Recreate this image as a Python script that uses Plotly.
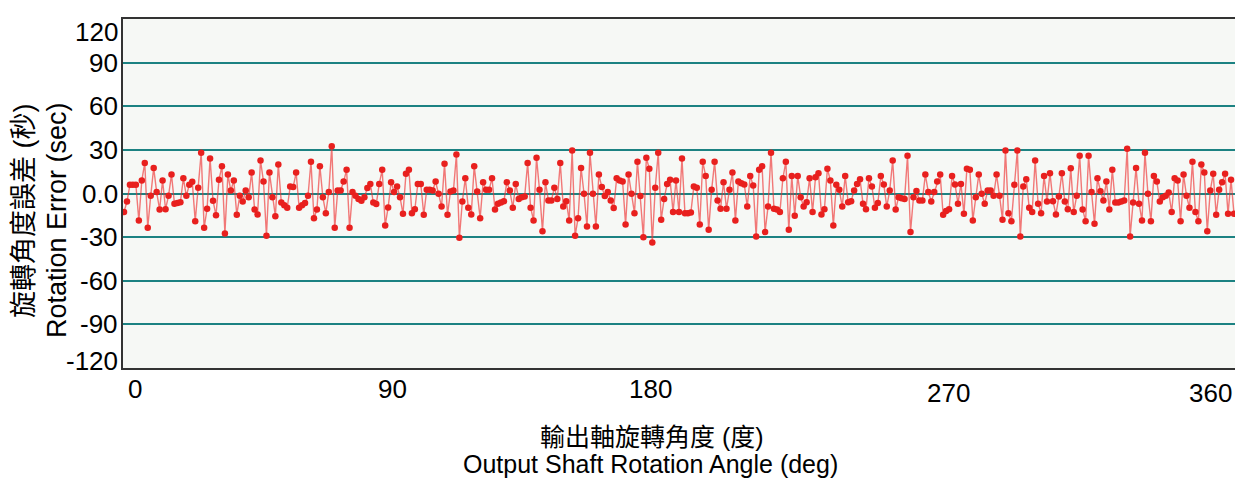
import plotly.graph_objects as go

err_part1 = [-12.8, -5.5, 6, 6, 6, -18.5, 9, 21, -23.6, -1.6, 17.6, 1, -11, 9, -10.8, -1.6, 13, -7, -6.6, -6,
             10.5, -1.6, 6, 8, -19, 4, 28, -23.6, -10.5, 24, -5, -15, 9.4, 18.8, -27.5, 13, 2, 9, -14.6, -1.6,
             -5.5, 2, -2.5, 14.4, -11]
err_part2 = [-14.4, 22.7, 8.2, -29, 14.4, -2.5, -15.6, 20, -6.2, -8, -9.8, 4.8, 4.4, 14.4, -9.8, -8, -6.6, -1.6,
             21.8, -17, -11, 18.8, -2.5, -13.5, 1, 32.5, -23.6, 2, 2, 8.2, 16.3, -23.6, 1, -1.6, -3.7, -5, -2.5,
             3.7, 6.6, -6.2, -7.3, 6.6, 16.3, -22, -9.6, 7.8, 1, 4.8]
err_part3 = [-2.5, -14, 13.5, 16.3, -13.5, -10.8, 6.6, 6.6, -14.6, 2.5, 2.5, 2, 8.2, -0.2, -9, 20.4, -14.6, 1.4, 2,
             26.8, -30.5, -5.5, 10.5, -9.8, -14.4, 18.8, 1.4, -17, 7.8, 2.5, 2.5, 10.5, -11, -7, -6.2, -5.3, 7.8,
             2, -9.8, 6.6, -3.7, -2.5, -2, 21, -9.8, -18.5, 24.5, 2.5, -26, 7.8]
err_part4 = [-4.8, -4.8, 4, -3.7, 21, -9, -5.3, -18.5, 29.5, -29, -17, 17.6, -0.2, -22.7, 28, -0.2, -22.7, 13, 4.4,
             -1.8, 1.1, -4.8, -10, 10.5, 9, 8.2, -21.3, 13, -0.2, -13.5, 21.8, -1.8, -30, 24.5, 17, -33.7, 4, 28,
             -18, -3.7, 6.6, 9.4, -12.8, 9, -12.8]
err_part5 = [24, -13.5, -13.5, -13, 4.8, 4, -21.3, 21.8, 12, -25, 2.5, 21.8, -4.8, -10.5, 7.8, -10.5, 2.5, 14.4,
             -18.5, 8.2, 7, 6.2, -9, 12, 5.5, -29.5, 16.3, 18.8, -26.5, -9, 28, -10.5, -11, -12.8, 10.5, 21.8, -25,
             12, -15.3, 12, -2.5, -9, -6, 10.5, -12.8, 11.2, 14, -14.4, -10.8]
err_part6 = [17, 9, -22, 6, 2.5, -9, 12, -6, -5.3, 2, 6.6, 9.8, -7, -10.8, 10.5, 4.8, -9.8, -6.6, 12, 6.2, -9, 2,
             22.7, -11, -2.5, -3.2, -3.7, 25.9, -26.5, -2.5, 1.8, -4.8, -4.8, 13, 1, -5.5, 1, 8.2, 13, -14.6, -12,
             -10.8, 12, 6.2, -7, 6.6]
err_part7 = [-14, 17, 16.3, -18.5, -2.5, 13, -0.2, -7, 2, 2, -1.6, 13, -1.6, -18, 29.5, -13.5, -19, 6, 29.5, -29.5,
             4.8, 9.8, -9.8, -12.8, 22.7, -7, -13.5, 12, -5.5, 14, -5.3, -14.4, -2, 14, -5.5, -10.8, 17.4, -12.8,
             -1.6, 26, -11, -19, 26, 1, -20.8, 10.5]
err_part8 = [1.6, -4.8, 8.2, -11, 16.3, -6.2, -6.2, -5.5, -4.8, 30.7, -29.5, -6.2, 17.6, -7, -18.5, 28, -0.2, -19,
             12, 8.2, -5.5, -2.5, -1.6, 0.7, -12.8, 10.5, 9, -19, 13, -1.6, -9.8, 21.8, -12.8, -19, 20, 14.4, -26,
             2, 13.5, -14.6, 2.5, 7.8, 13.5, -14, 9.4, -14]

errors = (err_part1 + err_part2 + err_part3 + err_part4 + err_part5 + err_part6 + err_part7 + err_part8)
sample_index = list(range(len(errors)))

y_tick_values = [120, 90, 60, 30, 0, -30, -60, -90, -120]
y_tick_labels = ["120", "90", "60", "30", "0.0", "-30", "-60", "-90", "-120"]
x_tick_labels = ["0", "90", "180", "270", "360"]

W, H = 1235, 478
L, R, T, B = 123, 0, 19, 110
pw, ph = W - L - R, H - T - B

FONT = "Liberation Sans, Arial, Noto Sans CJK TC, sans-serif"
TEAL = "#1c8282"

n = len(errors)
ppi = (1234 - 124) / (n - 1)
x_lo = -(124 - L) / ppi
x_hi = (n - 1) + (W - R - 1234) / ppi

fig = go.Figure()
fig.add_trace(go.Scatter(
    x=sample_index, y=errors, mode="lines+markers",
    line=dict(color="rgba(238,50,50,0.65)", width=1.4),
    marker=dict(color="#e8201e", size=6.5),
    hoverinfo="skip", showlegend=False))


def px_to_paper_x(px):
    return (px - L) / pw


def px_to_paper_y(py):
    return (H - B - py) / ph


annotations = []
for v, lab in zip(y_tick_values, y_tick_labels):
    yv = v
    if v == 120:
        yv = 110.8
    elif v == -120:
        yv = -115.0
    annotations.append(dict(x=0, xref="paper", xanchor="right", xshift=-3,
                            y=yv, yref="y", yanchor="middle", text=lab, showarrow=False,
                            font=dict(size=26, color="#000", family=FONT)))

x_label_px = [135, 392, 650, 948, 1210]
x_label_py = [389, 389, 389, 393, 393]
for lab, px, py in zip(x_tick_labels, x_label_px, x_label_py):
    annotations.append(dict(x=px_to_paper_x(px), xref="paper", xanchor="center",
                            y=px_to_paper_y(py), yref="paper", yanchor="middle",
                            text=lab, showarrow=False,
                            font=dict(size=26, color="#000", family=FONT)))

annotations.append(dict(x=px_to_paper_x(652), xref="paper", xanchor="center",
                        y=px_to_paper_y(437), yref="paper", yanchor="middle",
                        text="輸出軸旋轉角度 (度)", showarrow=False,
                        font=dict(size=25, color="#000", family=FONT)))
annotations.append(dict(x=px_to_paper_x(650), xref="paper", xanchor="center",
                        y=px_to_paper_y(464), yref="paper", yanchor="middle",
                        text="Output Shaft Rotation Angle (deg)", showarrow=False,
                        font=dict(size=25, color="#000", family=FONT)))
annotations.append(dict(x=px_to_paper_x(24), xref="paper", xanchor="center",
                        y=px_to_paper_y(211), yref="paper", yanchor="middle",
                        text="旋轉角度誤差 (秒)", textangle=-90, showarrow=False,
                        font=dict(size=27, color="#000", family=FONT)))
annotations.append(dict(x=px_to_paper_x(57), xref="paper", xanchor="center",
                        y=px_to_paper_y(220), yref="paper", yanchor="middle",
                        text="Rotation Error (sec)", textangle=-90, showarrow=False,
                        font=dict(size=27, color="#000", family=FONT)))

fig.update_layout(
    width=W, height=H,
    margin=dict(l=L, r=R, t=T, b=B, pad=0),
    paper_bgcolor="#ffffff",
    plot_bgcolor="#f6f8f5",
    font=dict(family=FONT, size=26, color="#000"),
    annotations=annotations,
    xaxis=dict(range=[x_lo, x_hi], showgrid=False, zeroline=False, showticklabels=False,
               ticks="", showline=True, linecolor="#333333", linewidth=2, mirror=True, fixedrange=True),
    yaxis=dict(range=[-120, 120], tickvals=[-90, -60, -30, 30, 60, 90], showticklabels=False, ticks="",
               showgrid=True, gridcolor=TEAL, gridwidth=2,
               zeroline=True, zerolinecolor=TEAL, zerolinewidth=2,
               showline=True, linecolor="#333333", linewidth=2, mirror=False, fixedrange=True),
)

fig.write_html("out.html", config={"displayModeBar": False},
               post_script="document.body.style.margin='0';document.body.style.padding='0';")
